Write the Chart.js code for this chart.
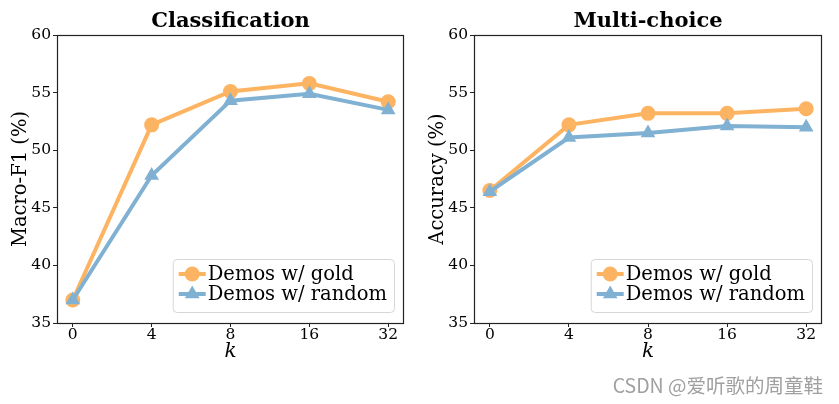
<!DOCTYPE html>
<html><head><meta charset="utf-8">
<script src="https://cdn.jsdelivr.net/npm/chart.js@4/dist/chart.umd.min.js"></script>
<style>
html,body{margin:0;padding:0;background:#fff;}
#wrap{position:relative;width:839px;height:404px;overflow:hidden;background:#fff;}
#c1{position:absolute;left:0;top:0;}
#c2{position:absolute;left:420px;top:0;}
#wm{position:absolute;right:16px;top:372px;font-family:"Noto Sans CJK SC";font-size:19.5px;line-height:26px;color:#a0a0a0;white-space:nowrap;}
</style></head><body>
<div id="wrap">
<canvas id="c1" width="420" height="404"></canvas>
<canvas id="c2" width="419" height="404"></canvas>
<div id="wm">CSDN @爱听歌的周童鞋</div>
</div>
<script>
const kLabels = ['0', '4', '8', '16', '32'];
const yTicks = [35, 40, 45, 50, 55, 60];
const clsGold = [37.0, 52.2, 55.1, 55.8, 54.2];
const clsRandom = [37.0, 47.8, 54.3, 54.9, 53.5];
const mcGold = [46.5, 52.2, 53.2, 53.2, 53.6];
const mcRandom = [46.4, 51.1, 51.5, 52.1, 52.0];
const seriesNames = ['Demos w/ gold', 'Demos w/ random'];

const GOLD = '#FDB462';
const BLUE = '#80B1D3';
const SERIF = '"DejaVu Serif", serif';

function drawMarker(ctx, style, x, y, r, color) {
  ctx.save();
  ctx.fillStyle = color;
  ctx.beginPath();
  if (style === 'circle') {
    ctx.arc(x, y, r, 0, Math.PI * 2);
  } else {
    const a = Math.PI * 2 / 3;
    for (let i = 0; i < 3; i++) {
      const px = x + Math.sin(i * a) * r;
      const py = y - Math.cos(i * a) * r;
      if (i === 0) ctx.moveTo(px, py); else ctx.lineTo(px, py);
    }
    ctx.closePath();
  }
  ctx.fill();
  ctx.restore();
}

const decor = {
  id: 'decor',
  afterDraw(chart, args, opts) {
    const ctx = chart.ctx;
    const a = chart.chartArea;
    ctx.save();
    // frame
    ctx.strokeStyle = '#222';
    ctx.lineWidth = 1.2;
    ctx.strokeRect(Math.round(a.left) + 0.5, Math.round(a.top) + 0.5,
                   Math.round(a.right - a.left) - 1, Math.round(a.bottom - a.top));
    // title
    ctx.fillStyle = '#000';
    ctx.font = 'bold 21px ' + SERIF;
    ctx.textAlign = 'center';
    ctx.textBaseline = 'middle';
    ctx.fillText(opts.title, (a.left + a.right) / 2, 22);
    // legend
    ctx.font = '19.5px ' + SERIF;
    const dss = chart.data.datasets;
    let maxW = 0;
    dss.forEach(d => { maxW = Math.max(maxW, ctx.measureText(d.label).width); });
    const padL = 6, handle = 27, gap = 2, padR = 7;
    const bw = padL + handle + gap + maxW + padR;
    const bh = 53;
    const bx = a.right - 10 - bw;
    const by = a.bottom - 11 - bh;
    ctx.beginPath();
    ctx.roundRect(bx + 0.5, by + 0.5, bw, bh, 4);
    ctx.fillStyle = 'rgba(255,255,255,0.8)';
    ctx.fill();
    ctx.strokeStyle = '#d6d6d6';
    ctx.lineWidth = 1;
    ctx.stroke();
    dss.forEach((d, i) => {
      const ry = by + 15 + i * 20;
      const x0 = bx + padL;
      ctx.strokeStyle = d.borderColor;
      ctx.lineWidth = 4;
      ctx.beginPath();
      ctx.moveTo(x0, ry);
      ctx.lineTo(x0 + handle, ry);
      ctx.stroke();
      drawMarker(ctx, d.pointStyle, x0 + handle / 2, ry, d.pointRadius, d.borderColor);
      ctx.fillStyle = '#000';
      ctx.textAlign = 'left';
      ctx.textBaseline = 'middle';
      ctx.fillText(d.label, x0 + handle + gap, ry + 1);
    });
    ctx.restore();
  }
};

function makeChart(id, title, yTitle, gold, random, yWidth, padRight, yTitlePad) {
  const toPts = arr => arr.map((v, i) => ({ x: i, y: v }));
  return new Chart(document.getElementById(id), {
    type: 'line',
    data: {
      datasets: [
        { label: seriesNames[0], data: toPts(gold), borderColor: GOLD, backgroundColor: GOLD,
          borderWidth: 4, pointStyle: 'circle', pointRadius: 7.5, pointHoverRadius: 7.5,
          pointBorderWidth: 0, tension: 0, order: 2 },
        { label: seriesNames[1], data: toPts(random), borderColor: BLUE, backgroundColor: BLUE,
          borderWidth: 4, pointStyle: 'triangle', pointRadius: 8.5, pointHoverRadius: 8.5,
          pointBorderWidth: 0, tension: 0, order: 1 }
      ]
    },
    options: {
      responsive: false,
      animation: false,
      devicePixelRatio: 1,
      layout: { padding: { left: 0, right: padRight, top: 35, bottom: 40 } },
      plugins: {
        legend: { display: false },
        tooltip: { enabled: false },
        title: { display: false },
        decor: { title: title }
      },
      scales: {
        x: {
          type: 'linear', min: -0.2, max: 4.2,
          afterBuildTicks: s => { s.ticks = kLabels.map((_, i) => ({ value: i })); },
          afterFit: s => { s.height = 41; },
          ticks: { callback: v => kLabels[v], color: '#000', padding: -1, maxRotation: 0,
                   font: { family: SERIF, size: 15.5 } },
          grid: { display: true, drawOnChartArea: false, drawTicks: true, tickLength: 4, color: '#222' },
          border: { display: false },
          title: { display: true, text: 'k', color: '#000', padding: { top: 0, bottom: 0 },
                   font: { family: SERIF, size: 20, style: 'italic' } }
        },
        y: {
          type: 'linear', min: 35, max: 60,
          afterBuildTicks: s => { s.ticks = yTicks.map(v => ({ value: v })); },
          afterFit: s => { s.width = yWidth; },
          ticks: { color: '#000', padding: 2, font: { family: SERIF, size: 15.5 } },
          grid: { display: true, drawOnChartArea: false, drawTicks: true, tickLength: 4, color: '#222' },
          border: { display: false },
          title: { display: true, text: yTitle, color: '#000', padding: { top: yTitlePad, bottom: 0 },
                   font: { family: SERIF, size: 19.5 } }
        }
      }
    },
    plugins: [decor]
  });
}

makeChart('c1', 'Classification', 'Macro-F1 (%)', clsGold, clsRandom, 57, 16, 9);
makeChart('c2', 'Multi-choice', 'Accuracy (%)', mcGold, mcRandom, 54, 17, 6);
</script>
</body></html>
